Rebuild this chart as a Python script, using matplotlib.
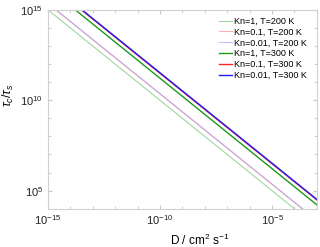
import numpy as np
import matplotlib

matplotlib.use("Agg")
import matplotlib.pyplot as plt
from matplotlib.ticker import NullFormatter

plt.rcParams["font.family"] = ["Liberation Sans", "DejaVu Sans"]
plt.rcParams["mathtext.fontset"] = "custom"
plt.rcParams["mathtext.rm"] = "Liberation Sans"
plt.rcParams["mathtext.it"] = "Liberation Sans:italic"

# tau_c / tau_s = C / D, prefactors
labels = ["Kn=1, T=200 K", "Kn=0.1, T=200 K", "Kn=0.01, T=200 K",
          "Kn=1, T=300 K", "Kn=0.1, T=300 K", "Kn=0.01, T=300 K"]
prefactors = [1.0, 2.2, 2.35, 16.5, 31.0, 33.0]
colors = ["#9ed89e", "#ff9a9a", "#9a9aff", "#1a9a1a", "#ff2020", "#2020ff"]
widths = [0.8, 0.8, 0.8, 1.0, 1.0, 1.0]
alphas = [1.0, 0.8, 0.6, 1.0, 1.0, 1.0]

D = np.logspace(-15, -3, 50)

fig = plt.figure(figsize=(3.2, 2.47), dpi=100)
ax = fig.add_axes([0.15, 0.155, 0.84, 0.805])

for lab, c, col, lw, a in zip(labels, prefactors, colors, widths, alphas):
    ax.plot(D, c / D, color=col, lw=lw, alpha=a, label=lab)

ax.set_xscale("log")
ax.set_yscale("log")
ax.set_xlim(1e-15, 1e-3)
ax.set_ylim(1e4, 1e15)

ax.set_xticks([1e-15, 1e-10, 1e-5])
ax.set_xticks([10.0 ** k for k in range(-15, -2)], minor=True)
ax.set_yticks([1e5, 1e10, 1e15])
ax.set_yticks([10.0 ** k for k in range(4, 16)], minor=True)
ax.xaxis.set_minor_formatter(NullFormatter())
ax.yaxis.set_minor_formatter(NullFormatter())

for s in ax.spines.values():
    s.set_color("#d0d0d0")
ax.tick_params(which="both", direction="in", top=True, right=True,
               color="#c8c8c8", labelsize=8, labelcolor="#222222")
ax.tick_params(which="major", length=3)
ax.tick_params(which="minor", length=2)

ax.set_xlabel(r"D / cm$^2$ s$^{-1}$", fontsize=8.5)
ax.xaxis.set_label_coords(0.565, -0.12)
ax.set_ylabel(r"$\tau_c/\tau_s$", fontsize=9)
ax.yaxis.set_label_coords(-0.12, 0.57)

ax.legend(loc="upper left", bbox_to_anchor=(0.635, 0.965), fontsize=6.5,
          frameon=False, handlelength=1.5, handletextpad=0.15,
          labelspacing=0.2, borderaxespad=0, borderpad=0)

fig.savefig("out.png", dpi=100)
